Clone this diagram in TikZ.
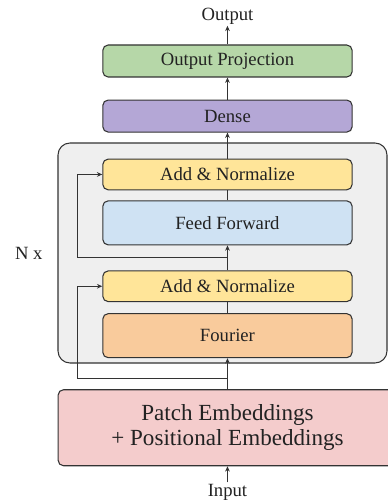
\documentclass[tikz,border=0pt]{standalone}
\usepackage{fontspec}
\setmainfont{Liberation Serif}
\usetikzlibrary{positioning,calc,fit,backgrounds,arrows.meta}

\definecolor{projgreen}{HTML}{B6D7A8}
\definecolor{densepurple}{HTML}{B4A7D6}
\definecolor{normyellow}{HTML}{FFE599}
\definecolor{ffblue}{HTML}{CFE2F3}
\definecolor{fourierorange}{HTML}{F9CB9C}
\definecolor{embedpink}{HTML}{F4CCCC}
\definecolor{stackgray}{HTML}{EFEFEF}
\definecolor{linegray}{HTML}{333333}
\definecolor{textgray}{HTML}{222222}

\tikzset{
    block/.style={draw=linegray, line width=0.8pt, rounded corners=4pt, minimum width=187pt,
        font=\fontsize{14}{16}\selectfont, text=textgray},
    lbl/.style={inner sep=1pt, font=\fontsize{14}{16}\selectfont, text=textgray},
    link/.style={draw=linegray, line width=0.7pt},
    arr/.style={link, -{Stealth[length=4pt,width=3.5pt]}},
}

\begin{document}
\begin{tikzpicture}[]
    \useasboundingbox (0,0) rectangle (291pt,-377.25pt);
    \coordinate (gtl) at (43.5pt,-107.25pt);
    \coordinate (gbr) at (290.25pt,-272.25pt);

    \node [block, fill=projgreen, minimum height=24pt] (proj) at (170.6pt,-45.75pt) {Output Projection};
    \node [block, fill=densepurple, minimum height=24pt, below=16.5pt of proj] (dense) {Dense};
    \node [block, fill=normyellow, minimum height=23pt, below=19.5pt of dense] (an1) {Add \& Normalize};
    \node [block, fill=ffblue, minimum height=33pt, below=7.5pt of an1] (ff) {Feed Forward};
    \node [block, fill=normyellow, minimum height=23pt, below=18.75pt of ff] (an2) {Add \& Normalize};
    \node [block, fill=fourierorange, minimum height=33pt, below=8.25pt of an2] (fourier) {Fourier};
    \node [block, fill=embedpink, minimum width=254pt, minimum height=57pt, below=23.25pt of fourier,
        font=\fontsize{17.3}{19}\selectfont, align=center] (embed) {Patch Embeddings\\+ Positional Embeddings};
    \node [lbl, above=14pt of proj] (outp) {Output};
    \node [lbl, below=12pt of embed] (inp) {Input};

    \begin{scope}[on background layer]
        \node [fit=(gtl)(gbr), inner sep=0pt, draw=linegray, line width=0.8pt, fill=stackgray,
            rounded corners=9pt] (stack) {};
    \end{scope}
    \node [lbl, left=10pt of stack] (nx) {N x};

    \coordinate (fork1) at ($(ff.south)!0.5!(an2.north)$);
    \coordinate (fork2) at ($(fourier.south)!0.65!(embed.north)$);

    \draw [arr] (inp) -- (embed);
    \draw [arr] (embed) -- (fourier);
    \draw [link] (fourier) -- (an2);
    \draw [arr] (an2) -- (ff);
    \draw [link] (ff) -- (an1);
    \draw [arr] (an1) -- (dense);
    \draw [arr] (dense) -- (proj);
    \draw [arr] (proj) -- (outp);
    \draw [arr] (fork1) -| ([xshift=-18.75pt]an1.west) -- (an1.west);
    \draw [arr] (fork2) -| ([xshift=-18.75pt]an2.west) -- (an2.west);
\end{tikzpicture}
\end{document}
